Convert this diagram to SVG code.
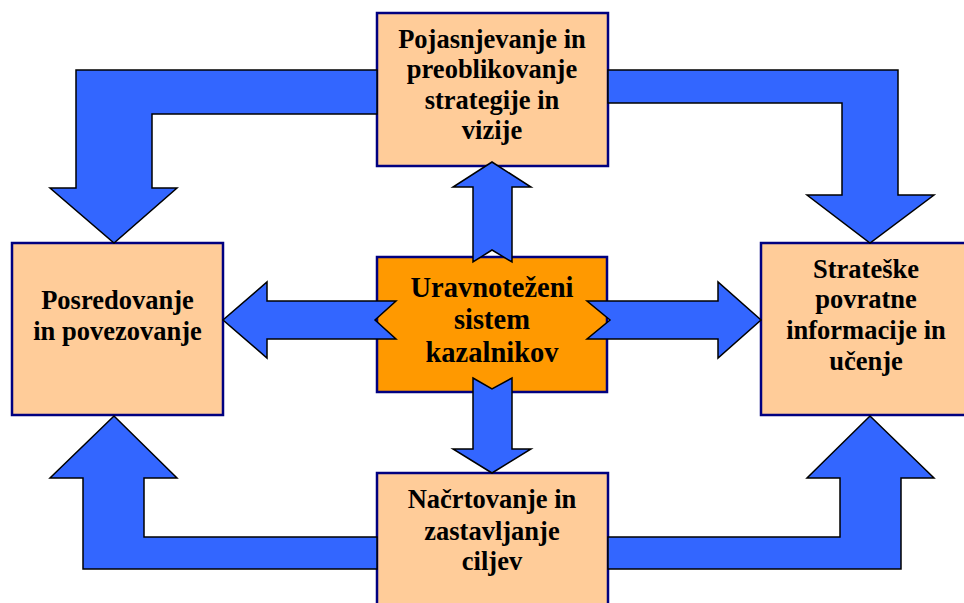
<svg xmlns="http://www.w3.org/2000/svg" width="964" height="603" viewBox="0 0 964 603">
  <style>
    .box { fill: #FFCC99; stroke: #000080; stroke-width: 2.5; }
    .core { fill: #FF9900; stroke: #000080; stroke-width: 2.5; }
    .arrow { fill: #3366FF; stroke: #000000; stroke-width: 1.5; stroke-linejoin: miter; }
    text { font-family: "Liberation Serif", "Times New Roman", serif; font-weight: bold; fill: #000000; text-anchor: middle; }
    .t { font-size: 26.5px; }
    .c { font-size: 28.5px; }
  </style>
  <rect width="964" height="603" fill="#FFFFFF"/>

  <g id="nodes">
    <g id="node-top">
      <rect class="box" x="377" y="13" width="231" height="153"/>
      <text class="t" x="492" y="48">Pojasnjevanje in</text>
      <text class="t" x="492" y="78">preoblikovanje</text>
      <text class="t" x="492" y="109">strategije in</text>
      <text class="t" x="492" y="139">vizije</text>
    </g>
    <g id="node-left">
      <rect class="box" x="12" y="243" width="211" height="172"/>
      <text class="t" x="117.5" y="309">Posredovanje</text>
      <text class="t" x="117.5" y="340">in povezovanje</text>
    </g>
    <g id="node-right">
      <rect class="box" x="761" y="243" width="211" height="172"/>
      <text class="t" x="866" y="278">Strateške</text>
      <text class="t" x="866" y="308">povratne</text>
      <text class="t" x="866" y="339">informacije in</text>
      <text class="t" x="866" y="370">učenje</text>
    </g>
    <g id="node-bottom">
      <rect class="box" x="377" y="473" width="231" height="153"/>
      <text class="t" x="492" y="508">Načrtovanje in</text>
      <text class="t" x="492" y="540">zastavljanje</text>
      <text class="t" x="492" y="570">ciljev</text>
    </g>
    <g id="node-center">
      <rect class="core" x="377" y="257" width="230" height="135"/>
      <text class="c" x="492" y="297">Uravnoteženi</text>
      <text class="c" x="492" y="329">sistem</text>
      <text class="c" x="492" y="362">kazalnikov</text>
    </g>
  </g>

  <g id="connectors">
    <!-- bent arrows around the outer ring -->
    <polygon class="arrow" points="377,70 76,70 76,188 50,188 114,243 177,188 152,188 152,114 377,114"/>
    <polygon class="arrow" points="608,70 898,70 898,195 934,195 870,243 807,195 842,195 842,103 608,103"/>
    <polygon class="arrow" points="377,537 144,537 144,478 177,478 114,416 50,478 83,478 83,569 377,569"/>
    <polygon class="arrow" points="608,537 840,537 840,478 807,478 870,416 934,478 901,478 901,569 608,569"/>
    <!-- notched arrows leaving the centre -->
    <polygon class="arrow" points="473,262 473,187 453,187 492,162 531,187 512,187 512,262 492,250"/>
    <polygon class="arrow" points="473,378 492,389 512,378 512,449 531,449 492,473 453,449 473,449"/>
    <polygon class="arrow" points="396,301 267,301 267,282 223,320 267,358 267,339 396,339 375,320"/>
    <polygon class="arrow" points="587,301 718,301 718,282 761,320 718,358 718,339 587,339 610,320"/>
  </g>
</svg>
